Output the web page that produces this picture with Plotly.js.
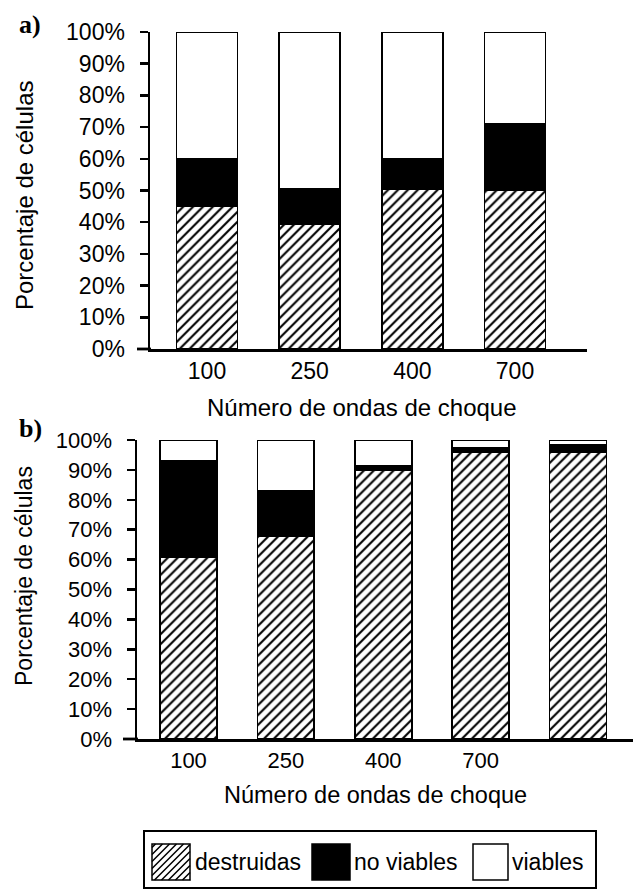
<!DOCTYPE html>
<html>
<head>
<meta charset="utf-8">
<script src="https://cdn.plot.ly/plotly-3.0.1.min.js"></script>
<style>html,body{margin:0;padding:0;background:#fff;}</style>
</head>
<body>
<div id="chart" style="width:637px;height:890px;"></div>
<script>
// ---- data ----
var catsA = ['100', '250', '400', '700'];
var destruidasA = [45, 39.5, 50.5, 50];
var noViablesA = [15, 11, 9.5, 21];
var viablesA = [40, 49.5, 40, 29];

var catsB = ['b1', 'b2', 'b3', 'b4', 'b5'];
var tickLabelsB = ['100', '250', '400', '700', ''];
var destruidasB = [61, 68, 90, 96, 96];
var noViablesB = [32, 15, 1.5, 1.5, 2.5];
var viablesB = [7, 17, 8.5, 2.5, 1.5];

var seriesNames = ['destruidas', 'no viables', 'viables'];
var yTickVals = [0, 10, 20, 30, 40, 50, 60, 70, 80, 90, 100];
var yTickText = ['0%', '10%', '20%', '30%', '40%', '50%', '60%', '70%', '80%', '90%', '100%'];

// ---- helpers ----
var W = 637, H = 890;
function px(x) { return x / W; }
function py(y) { return 1 - y / H; }
var FONT = 'Liberation Sans, Arial, sans-serif';

var lineStyle = {color: '#000', width: 1.8};
var hatch = {shape: '/', size: 7, solidity: 0.3, fgcolor: '#000', bgcolor: '#fff', fillmode: 'replace'};

function mk(x, y, name, kind, xa, ya, w) {
  var m = {line: lineStyle};
  if (kind === 'hatch') { m.color = '#fff'; m.pattern = hatch; }
  else if (kind === 'black') { m.color = '#000'; }
  else { m.color = '#fff'; }
  return {type: 'bar', x: x, y: y, name: name, xaxis: xa, yaxis: ya, width: w,
          marker: m, showlegend: false, hoverinfo: 'skip'};
}

var wA = 0.594, wB = 0.585;
var data = [
  mk(catsA, destruidasA, seriesNames[0], 'hatch', 'x', 'y', wA),
  mk(catsA, noViablesA, seriesNames[1], 'black', 'x', 'y', wA),
  mk(catsA, viablesA, seriesNames[2], 'white', 'x', 'y', wA),
  mk(catsB, destruidasB, seriesNames[0], 'hatch', 'x2', 'y2', wB),
  mk(catsB, noViablesB, seriesNames[1], 'black', 'x2', 'y2', wB),
  mk(catsB, viablesB, seriesNames[2], 'white', 'x2', 'y2', wB)
];

function yAxis(domain, fs, anchor) {
  return {
    domain: domain, anchor: anchor, range: [0, 100], fixedrange: true,
    tickmode: 'array', tickvals: yTickVals, ticktext: yTickText,
    showline: true, linecolor: '#000', linewidth: 2.5,
    ticks: 'outside', ticklen: 8, tickwidth: 2.5, tickcolor: '#000',
    showgrid: false, zeroline: false,
    tickfont: {family: FONT, size: fs, color: '#000'},
    ticklabelstandoff: 10
  };
}
function xAxis(domain, range, fs, anchor, standoff, tv, tt) {
  var ax = {
    domain: domain, anchor: anchor, type: 'category', range: range,
    showline: true, linecolor: '#000', linewidth: 2.8,
    ticks: '', showgrid: false, zeroline: false,
    tickfont: {family: FONT, size: fs, color: '#000'},
    ticklabelstandoff: standoff
  };
  if (tv) { ax.tickmode = 'array'; ax.tickvals = tv; ax.ticktext = tt; }
  return ax;
}

// legend swatch hatch lines
function hatchPath(x0, y0, x1, y1, step) {
  var p = '';
  for (var c = x0 + y0 + step / 2; c < x1 + y1; c += step) {
    var xa = Math.max(x0, c - y1), xb = Math.min(x1, c - y0);
    if (xb <= xa) continue;
    p += 'M' + px(xa).toFixed(5) + ',' + py(c - xa).toFixed(5) + 'L' + px(xb).toFixed(5) + ',' + py(c - xb).toFixed(5);
  }
  return p;
}

var shapes = [
  // x-axis baseline extensions to the left of the y axes
  {type: 'line', xref: 'paper', yref: 'paper', x0: px(137), x1: px(151), y0: py(349), y1: py(349), line: {color: '#000', width: 2.8}},
  {type: 'line', xref: 'paper', yref: 'paper', x0: px(123), x1: px(138), y0: py(739), y1: py(739), line: {color: '#000', width: 2.8}},
  // legend box
  {type: 'rect', xref: 'paper', yref: 'paper', x0: px(144), x1: px(596), y0: py(831), y1: py(888), line: {color: '#000', width: 2}, fillcolor: 'rgba(0,0,0,0)'},
  // hatch swatch
  {type: 'rect', xref: 'paper', yref: 'paper', x0: px(152), x1: px(190), y0: py(844), y1: py(880), line: {color: '#000', width: 1.5}, fillcolor: '#fff'},
  {type: 'path', xref: 'paper', yref: 'paper', path: hatchPath(152, 844, 190, 880, 7), line: {color: '#000', width: 1.5}},
  // black swatch
  {type: 'rect', xref: 'paper', yref: 'paper', x0: px(312), x1: px(350), y0: py(844), y1: py(880), line: {color: '#000', width: 1.5}, fillcolor: '#000'},
  // white swatch
  {type: 'rect', xref: 'paper', yref: 'paper', x0: px(473), x1: px(508), y0: py(844), y1: py(880), line: {color: '#000', width: 1.5}, fillcolor: '#fff'}
];

function ann(text, x, y, size, opts) {
  var a = {text: text, xref: 'paper', yref: 'paper', x: x, y: y, showarrow: false,
           xanchor: 'center', yanchor: 'middle', font: {family: FONT, size: size, color: '#000'}};
  for (var k in (opts || {})) a[k] = opts[k];
  return a;
}
var SERIF = 'Liberation Serif, Times New Roman, serif';
var annotations = [
  ann('<b>a)</b>', px(30), py(25), 26, {font: {family: SERIF, size: 26, color: '#000'}}),
  ann('<b>b)</b>', px(30), py(428), 26, {font: {family: SERIF, size: 26, color: '#000'}}),
  ann('Porcentaje de células', px(24), py(196), 24, {textangle: -90}),
  ann('Porcentaje de células', px(24), py(576), 23, {textangle: -90}),
  ann('Número de ondas de choque', px(362), py(408), 24),
  ann('Número de ondas de choque', px(375), py(795), 23.5),
  ann(seriesNames[0], px(193), py(862), 23, {xanchor: 'left'}),
  ann(seriesNames[1], px(352), py(862), 23, {xanchor: 'left'}),
  ann(seriesNames[2], px(510), py(862), 23, {xanchor: 'left'})
];

var layout = {
  width: W, height: H,
  margin: {l: 0, r: 0, t: 0, b: 0},
  paper_bgcolor: '#fff', plot_bgcolor: '#fff',
  barmode: 'stack',
  showlegend: false,
  font: {family: FONT, color: '#000'},
  xaxis: xAxis([px(150), px(587)], [-0.555, 3.701], 23, 'y', 0),
  yaxis: yAxis([py(349), py(32)], 23, 'x'),
  xaxis2: xAxis([px(137), px(633)], [-0.529, 4.565], 22, 'y2', 0, catsB, tickLabelsB),
  yaxis2: yAxis([py(739), py(440)], 22, 'x2'),
  shapes: shapes,
  annotations: annotations
};

Plotly.newPlot('chart', data, layout, {staticPlot: true, displayModeBar: false});
</script>
</body>
</html>
